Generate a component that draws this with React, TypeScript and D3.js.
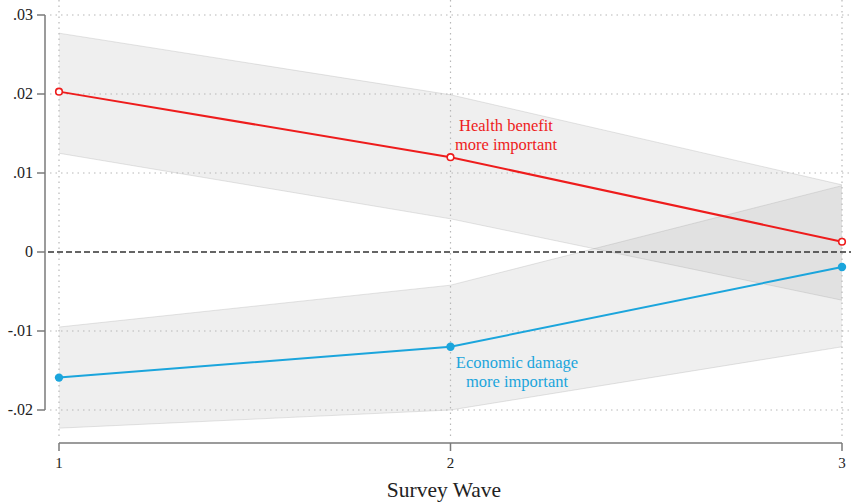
import React from "react";
import * as d3 from "d3";

// Survey waves on the x axis
const waves = [1, 2, 3];

// Point estimates and 95% confidence bounds per wave
const healthEst = [0.0203, 0.012, 0.0013];
const healthLo = [0.0125, 0.0042, -0.0061];
const healthHi = [0.0277, 0.0199, 0.0085];

const econEst = [-0.0159, -0.012, -0.0019];
const econLo = [-0.0223, -0.02, -0.012];
const econHi = [-0.0095, -0.0042, 0.0084];

const yTicks = [-0.02, -0.01, 0, 0.01, 0.02, 0.03];
const yTickLabels = ["-.02", "-.01", "0", ".01", ".02", ".03"];
const xTickLabels = ["1", "2", "3"];

const W = 851;
const H = 503;

const RED = "#ee1c1c";
const BLUE = "#1ba5dc";
const FONT = "'Liberation Serif', 'Times New Roman', serif";

export default function App() {
  const x = d3.scaleLinear().domain([1, 3]).range([59, 842]);
  const y = d3.scaleLinear().domain([0, 0.03]).range([252, 15]);

  const band = (lo: number[], hi: number[]) =>
    d3
      .area<number>()
      .x((_, i) => x(waves[i]))
      .y0((_, i) => y(lo[i]))
      .y1((_, i) => y(hi[i]))(waves) as string;

  const edge = (vals: number[]) =>
    d3
      .line<number>()
      .x((_, i) => x(waves[i]))
      .y((_, i) => y(vals[i]))(waves) as string;

  const axisColor = "#7a7a7a";
  const gridColor = "#b8b8b8";

  return (
    <svg
      width={W}
      height={H}
      style={{ position: "absolute", left: 0, top: 0, background: "#fff" }}
      fontFamily={FONT}
    >
      {/* confidence bands */}
      {[
        [healthLo, healthHi],
        [econLo, econHi],
      ].map(([lo, hi], k) => (
        <g key={k}>
          <path d={band(lo, hi)} fill="rgb(150,150,150)" fillOpacity={0.15} />
          <path d={edge(lo)} fill="none" stroke="rgb(150,150,150)" strokeOpacity={0.25} />
          <path d={edge(hi)} fill="none" stroke="rgb(150,150,150)" strokeOpacity={0.25} />
        </g>
      ))}

      {/* dotted grid */}
      {yTicks
        .filter((t) => t !== 0)
        .map((t) => (
          <line
            key={"gy" + t}
            x1={50}
            x2={W}
            y1={y(t)}
            y2={y(t)}
            stroke={gridColor}
            strokeWidth={1.2}
            strokeDasharray="1.5,4"
          />
        ))}
      {waves.map((w) => (
        <line
          key={"gx" + w}
          x1={x(w)}
          x2={x(w)}
          y1={0}
          y2={437}
          stroke={gridColor}
          strokeWidth={1.2}
          strokeDasharray="1.5,4"
        />
      ))}

      {/* zero reference */}
      <line
        x1={48}
        x2={W}
        y1={y(0)}
        y2={y(0)}
        stroke="#333"
        strokeWidth={1.3}
        strokeDasharray="6,3"
      />

      {/* y axis */}
      <line x1={45} x2={45} y1={y(0.03)} y2={y(-0.02)} stroke={axisColor} strokeWidth={1.5} />
      {yTicks.map((t, i) => (
        <g key={"yt" + t}>
          <line x1={37} x2={45} y1={y(t)} y2={y(t)} stroke={axisColor} strokeWidth={1.5} />
          <text
            x={33}
            y={y(t)}
            dy="0.33em"
            textAnchor="end"
            fontSize={16}
            fill="#222"
          >
            {yTickLabels[i]}
          </text>
        </g>
      ))}

      {/* x axis */}
      <line x1={x(1)} x2={x(3)} y1={443} y2={443} stroke={axisColor} strokeWidth={1.5} />
      {waves.map((w, i) => (
        <g key={"xt" + w}>
          <line x1={x(w)} x2={x(w)} y1={443} y2={451} stroke={axisColor} strokeWidth={1.5} />
          <text x={x(w)} y={468} textAnchor="middle" fontSize={15} fill="#222">
            {xTickLabels[i]}
          </text>
        </g>
      ))}
      <text x={444} y={497} textAnchor="middle" fontSize={21.5} fill="#222">
        Survey Wave
      </text>

      {/* estimate lines */}
      <path d={edge(healthEst)} fill="none" stroke={RED} strokeWidth={2} />
      <path d={edge(econEst)} fill="none" stroke={BLUE} strokeWidth={2} />

      {waves.map((w, i) => (
        <circle
          key={"hm" + w}
          cx={x(w)}
          cy={y(healthEst[i])}
          r={3.3}
          fill="#fff"
          stroke={RED}
          strokeWidth={1.6}
        />
      ))}
      {waves.map((w, i) => (
        <circle key={"em" + w} cx={x(w)} cy={y(econEst[i])} r={4.2} fill={BLUE} />
      ))}

      {/* annotations */}
      <text x={506} y={131} textAnchor="middle" fontSize={16.5} fill={RED}>
        Health benefit
      </text>
      <text x={506} y={150} textAnchor="middle" fontSize={16.5} fill={RED}>
        more important
      </text>
      <text x={517} y={368} textAnchor="middle" fontSize={16.5} fill={BLUE}>
        Economic damage
      </text>
      <text x={517} y={387} textAnchor="middle" fontSize={16.5} fill={BLUE}>
        more important
      </text>
    </svg>
  );
}
